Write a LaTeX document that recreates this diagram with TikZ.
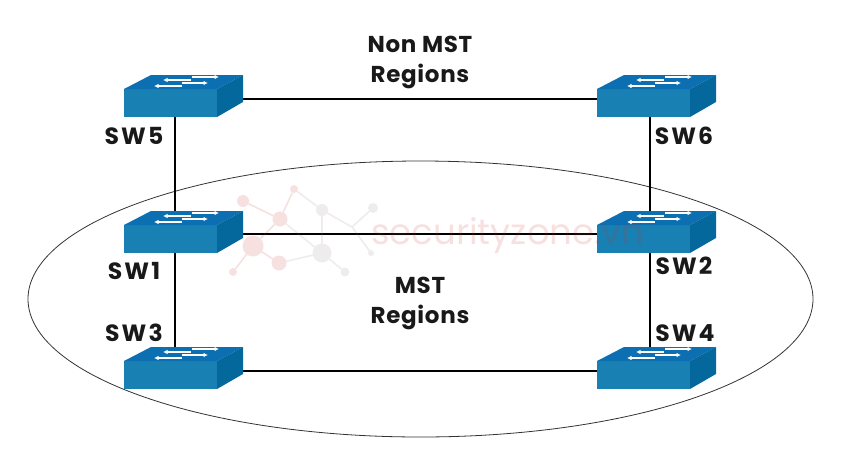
\documentclass[tikz,border=0pt]{standalone}
\usepackage{fontspec}
\setmainfont{Poppins}
\usetikzlibrary{backgrounds,arrows.meta,shapes.geometric}
\definecolor{swF}{HTML}{1880B2}
\definecolor{swT}{HTML}{0B6FB2}
\definecolor{swR}{HTML}{05689C}
\definecolor{wmP}{HTML}{C83232}
\definecolor{wmG}{HTML}{8A8080}
\newfontfamily\swlab[LetterSpace=9]{Poppins}
\newfontfamily\caplab[LetterSpace=3]{Poppins}
\tikzset{
  x=1pt,y=-1pt,
  swfront/.style={rectangle,fill=swF,draw=none,minimum width=93pt,minimum height=28pt,inner sep=0pt,outer sep=0pt,anchor=north west},
  swarrow/.style={draw=white,line width=1.2pt,-{Latex[length=4.5pt,width=4.5pt]}},
  swname/.style={font=\swlab\bfseries\fontsize{23.5}{26}\selectfont,text=black!90,inner sep=0pt},
  caption/.style={font=\caplab\bfseries\fontsize{23}{30}\selectfont,text=black!90,align=center,inner sep=0pt},
  link/.style={draw=black,line width=2pt},
  region/.style={ellipse,draw=black!80,line width=0.8pt,minimum width=785pt,minimum height=276pt,inner sep=0pt},
  wmdot/.style={circle,fill=#1,inner sep=0pt,outer sep=0pt},
  wmline/.style={draw=#1,line width=1.6pt},
}
\newcommand{\swbox}[3]{%
  \node[swfront] (#1) at (#2,#3) {};
  \begin{scope}[shift={(#2,#3)}]
    \fill[swT] (0,0) -- (27,-14) -- (119,-14) -- (93,0) -- cycle;
    \fill[swR] (93,0) -- (119,-14) -- (119,13) -- (93,28) -- cycle;
    \draw[swarrow] (68,-12) -- (95,-12);
    \draw[swarrow] (67,-9) -- (39,-9);
    \draw[swarrow] (58,-6) -- (84,-6);
    \draw[swarrow] (58,-3) -- (30,-3);
  \end{scope}}
\begin{document}
\begin{tikzpicture}
\useasboundingbox (0,0) rectangle (856,461);
\swbox{sw5}{124}{89}
\swbox{sw6}{597}{89}
\swbox{sw1}{124}{225}
\swbox{sw2}{597}{225}
\swbox{sw3}{124}{361}
\swbox{sw4}{597}{361}
\node[swname] (l5) at (134,136) {SW5};
\node[swname] (l6) at (684,136) {SW6};
\node[swname] (l1) at (134,271) {SW1};
\node[swname] (l2) at (684,266) {SW2};
\node[swname] (l3) at (134,333) {SW3};
\node[swname] (l4) at (685,333) {SW4};
\node[caption] (cap1) at (420,62) {Non MST\\Regions};
\node[caption] (cap2) at (420,303) {MST\\Regions};
\begin{pgfonlayer}{background}
  \node[region] (mst) at (420.5,299) {};
  \draw[link] ([yshift=4pt]sw5.east) -- ([yshift=4pt]sw6.west);
  \draw[link] ([yshift=5pt]sw1.east) -- ([yshift=5pt]sw2.west);
  \draw[link] ([yshift=4pt]sw3.east) -- ([yshift=4pt]sw4.west);
  \draw[link] ([xshift=4.5pt]sw5.south) -- ([xshift=4.5pt]sw1.north);
  \draw[link] ([xshift=4.5pt]sw1.south) -- ([xshift=4.5pt]sw3.north);
  \draw[link] ([xshift=6.5pt]sw6.south) -- ([xshift=6.5pt]sw2.north);
  \draw[link] ([xshift=6.5pt]sw2.south) -- ([xshift=6.5pt]sw4.north);
\end{pgfonlayer}
% watermark, faint, above the switches
\begin{scope}[transparency group,opacity=.15]
  \node[wmdot=wmP,minimum size=12pt] (w1) at (243,201) {};
  \node[wmdot=wmP,minimum size=15pt] (w2) at (280,219) {};
  \node[wmdot=wmP,minimum size=8pt] (w3) at (294,189) {};
  \node[wmdot=wmG,minimum size=12pt] (w4) at (322,210) {};
  \node[wmdot=wmG,minimum size=10pt] (w5) at (373,208) {};
  \coordinate (w6) at (352,227);
  \node[wmdot=wmG,minimum size=6pt] (w7) at (371,253) {};
  \node[wmdot=wmP,minimum size=21pt] (w8) at (253,246) {};
  \node[wmdot=wmP,minimum size=15pt] (w9) at (279,263) {};
  \node[wmdot=wmG,minimum size=19pt] (w10) at (322,253) {};
  \node[wmdot=wmG,minimum size=9pt] (w11) at (345,272) {};
  \node[wmdot=wmP,minimum size=8pt] (w12) at (233,272) {};
  \foreach \a/\b in {w1/w2,w2/w3,w2/w8,w8/w9,w8/w12}
    \draw[wmline=wmP] (\a) -- (\b);
  \foreach \a/\b in {w3/w4,w4/w6,w6/w5,w6/w7,w4/w10,w2/w10,w9/w10,w10/w11}
    \draw[wmline=wmG] (\a) -- (\b);
  \node[font=\fontsize{35.5}{38}\selectfont,text=wmP,anchor=base west,inner sep=0pt] (wmtext) at (371,244) {securityzone.vn};
\end{scope}
\end{tikzpicture}
\end{document}
